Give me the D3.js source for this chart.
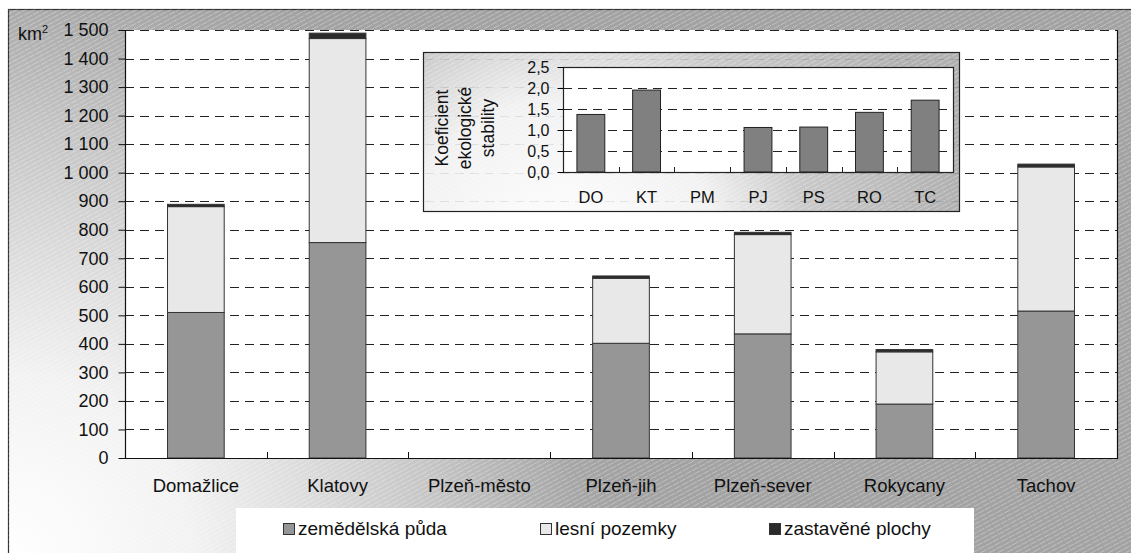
<!DOCTYPE html>
<html>
<head>
<meta charset="utf-8">
<script src="https://cdn.jsdelivr.net/npm/d3@7"></script>
<style>
  body { margin: 0; background: #fff; }
  svg text { font-family: "Liberation Sans", Arial, sans-serif; fill: #111; }
</style>
</head>
<body>
<svg id="chart" width="1131" height="553"></svg>
<script>
// data
var categories = ["Domažlice", "Klatovy", "Plzeň-město", "Plzeň-jih", "Plzeň-sever", "Rokycany", "Tachov"];
var zemedelska = [510, 755, 0, 402, 435, 189, 515];
var lesni = [371, 715, 0, 228, 348, 183, 505];
var zastavene = [8, 19, 0, 8, 8, 8, 10];
var seriesNames = ["zemědělská půda", "lesní pozemky", "zastavěné plochy"];
var yTicks = [0, 100, 200, 300, 400, 500, 600, 700, 800, 900, 1000, 1100, 1200, 1300, 1400, 1500];

var insetCats = ["DO", "KT", "PM", "PJ", "PS", "RO", "TC"];
var kes = [1.37, 1.95, 0, 1.06, 1.07, 1.42, 1.71];
var insetTicks = [0, 0.5, 1, 1.5, 2, 2.5];
var insetTitle = ["Koeficient", "ekologické", "stability"];

var colors = ["#969696", "#e8e8e8", "#2a2a2a"];

var cz = d3.formatLocale({decimal: ",", thousands: " ", grouping: [3], currency: ["", " Kč"]});
var fmtInt = cz.format(",d");
var fmtDec = cz.format(".1f");

var svg = d3.select("#chart");
var defs = svg.append("defs");

// background gradient + hatching
var rg = defs.append("radialGradient").attr("id", "bg")
  .attr("gradientUnits", "userSpaceOnUse")
  .attr("cx", 8).attr("cy", 560).attr("r", 620);
rg.append("stop").attr("offset", 0).attr("stop-color", "#ffffff");
rg.append("stop").attr("offset", 0.3).attr("stop-color", "#f2f2f2");
rg.append("stop").attr("offset", 0.7).attr("stop-color", "#c4c4c4");
rg.append("stop").attr("offset", 0.92).attr("stop-color", "#a6a6a6");
rg.append("stop").attr("offset", 1).attr("stop-color", "#a2a2a2");

var rg2 = defs.append("radialGradient").attr("id", "bg2")
  .attr("gradientUnits", "userSpaceOnUse")
  .attr("cx", 560).attr("cy", 260).attr("r", 400);
rg2.append("stop").attr("offset", 0).attr("stop-color", "#ffffff");
rg2.append("stop").attr("offset", 0.4).attr("stop-color", "#f0f0f0");
rg2.append("stop").attr("offset", 0.62).attr("stop-color", "#c4c4c4");
rg2.append("stop").attr("offset", 1).attr("stop-color", "#a8a8a8");

var pat = defs.append("pattern").attr("id", "hatch")
  .attr("patternUnits", "userSpaceOnUse")
  .attr("width", 8).attr("height", 4)
  .attr("patternTransform", "rotate(-28)");
pat.append("line").attr("x1", 0).attr("x2", 8).attr("y1", 0.5).attr("y2", 0.5)
  .attr("stroke", "#ffffff").attr("stroke-opacity", 0.3).attr("stroke-width", 1)
  .attr("stroke-dasharray", "5,1");

svg.append("rect").attr("x", 8.5).attr("y", 9.5).attr("width", 1140).attr("height", 560)
  .attr("fill", "url(#bg)").attr("stroke", "#333").attr("stroke-width", 1.2);
svg.append("rect").attr("x", 8.5).attr("y", 9.5).attr("width", 1140).attr("height", 560)
  .attr("fill", "url(#hatch)");

// main plot
var plot = {left: 125, right: 1117, top: 30, bottom: 458};

var x = d3.scaleBand().domain(categories)
  .range([plot.left, plot.right])
  .paddingInner(0.6).paddingOuter(0.3);
var y = d3.scaleLinear().domain([0, 1500]).range([plot.bottom, plot.top]);

svg.append("rect")
  .attr("x", plot.left).attr("y", plot.top)
  .attr("width", plot.right - plot.left).attr("height", plot.bottom - plot.top)
  .attr("fill", "#fff");

// gridlines
svg.append("g").selectAll("line")
  .data(yTicks.filter(function(d) { return d > 0; }))
  .enter().append("line")
  .attr("x1", plot.left).attr("x2", plot.right)
  .attr("y1", function(d) { return Math.round(y(d)) + 0.5; })
  .attr("y2", function(d) { return Math.round(y(d)) + 0.5; })
  .attr("stroke", "#222").attr("stroke-width", 1)
  .attr("stroke-dasharray", "9,6");

// stacked bars
var rows = categories.map(function(c, i) {
  return {cat: c, s0: zemedelska[i], s1: lesni[i], s2: zastavene[i]};
});
var stack = d3.stack().keys(["s0", "s1", "s2"])(rows);

svg.append("g").selectAll("g")
  .data(stack).enter().append("g")
  .attr("fill", function(d, i) { return colors[i]; })
  .selectAll("rect")
  .data(function(d) { return d.filter(function(p) { return p[1] > p[0]; }); })
  .enter().append("rect")
  .attr("x", function(d) { return x(d.data.cat); })
  .attr("width", x.bandwidth())
  .attr("y", function(d) { return y(d[1]); })
  .attr("height", function(d) { return y(d[0]) - y(d[1]); })
  .attr("stroke", "#333").attr("stroke-width", 1);

// plot frame (left, right, bottom)
svg.append("path")
  .attr("d", "M" + (plot.left + 0.5) + "," + plot.top + "V" + (plot.bottom + 0.5) +
    "H" + (plot.right + 0.5) + "V" + plot.top)
  .attr("fill", "none").attr("stroke", "#111").attr("stroke-width", 1.2);

// y axis
var yAxis = svg.append("g")
  .attr("transform", "translate(" + (plot.left + 0.5) + ",0)")
  .call(d3.axisLeft(y).tickValues(yTicks).tickFormat(fmtInt).tickSize(7).tickPadding(10));
yAxis.select(".domain").remove();
yAxis.selectAll(".tick line").attr("stroke", "#111");
yAxis.selectAll("text").style("font-size", "18px").attr("fill", "#111");

svg.append("text").attr("x", 18).attr("y", 40).style("font-size", "18px")
  .text("km").append("tspan").attr("dy", -7).style("font-size", "11px").text("2");

// x axis
var xAxis = svg.append("g")
  .attr("transform", "translate(0," + plot.bottom + ")")
  .call(d3.axisBottom(x).tickSize(0).tickPadding(21));
xAxis.select(".domain").remove();
xAxis.selectAll("text").style("font-size", "18.5px").attr("fill", "#111");

svg.append("g").selectAll("line")
  .data(d3.range(1, categories.length))
  .enter().append("line")
  .attr("x1", function(k) { return Math.round(plot.left + k * x.step()) + 0.5; })
  .attr("x2", function(k) { return Math.round(plot.left + k * x.step()) + 0.5; })
  .attr("y1", plot.bottom - 6).attr("y2", plot.bottom)
  .attr("stroke", "#111");

// inset chart
var box = {left: 423, top: 52, right: 959, bottom: 211};
var ip = {left: 563, right: 953, top: 67, bottom: 172};

svg.append("rect").attr("x", box.left + 0.5).attr("y", box.top + 0.5)
  .attr("width", box.right - box.left).attr("height", box.bottom - box.top)
  .attr("fill", "url(#bg2)").attr("fill-opacity", 0.9);
svg.append("rect").attr("x", box.left + 0.5).attr("y", box.top + 0.5)
  .attr("width", box.right - box.left).attr("height", box.bottom - box.top)
  .attr("fill", "url(#hatch)").attr("stroke", "#222").attr("stroke-width", 1.2);

var ix = d3.scaleBand().domain(insetCats)
  .range([ip.left, ip.right])
  .paddingInner(0.5).paddingOuter(0.25);
var iy = d3.scaleLinear().domain([0, 2.5]).range([ip.bottom, ip.top]);

svg.append("rect").attr("x", ip.left).attr("y", ip.top)
  .attr("width", ip.right - ip.left).attr("height", ip.bottom - ip.top)
  .attr("fill", "#fff");

svg.append("g").selectAll("line")
  .data(insetTicks.filter(function(d) { return d > 0 && d < 2.5; }))
  .enter().append("line")
  .attr("x1", ip.left).attr("x2", ip.right)
  .attr("y1", function(d) { return Math.round(iy(d)) + 0.5; })
  .attr("y2", function(d) { return Math.round(iy(d)) + 0.5; })
  .attr("stroke", "#222").attr("stroke-dasharray", "9,6");

svg.append("g").selectAll("rect")
  .data(kes.map(function(v, i) { return {cat: insetCats[i], v: v}; })
    .filter(function(d) { return d.v > 0; }))
  .enter().append("rect")
  .attr("x", function(d) { return ix(d.cat); })
  .attr("width", ix.bandwidth())
  .attr("y", function(d) { return iy(d.v); })
  .attr("height", function(d) { return iy(0) - iy(d.v); })
  .attr("fill", "#808080").attr("stroke", "#222").attr("stroke-width", 1);

svg.append("rect").attr("x", ip.left + 0.5).attr("y", ip.top + 0.5)
  .attr("width", ip.right - ip.left).attr("height", ip.bottom - ip.top)
  .attr("fill", "none").attr("stroke", "#222").attr("stroke-width", 1.2);

var iyAxis = svg.append("g")
  .attr("transform", "translate(" + (ip.left + 0.5) + ",0)")
  .call(d3.axisLeft(iy).tickValues(insetTicks).tickFormat(fmtDec).tickSize(6).tickPadding(8));
iyAxis.select(".domain").remove();
iyAxis.selectAll("text").style("font-size", "16px").attr("fill", "#222");

var ixAxis = svg.append("g")
  .attr("transform", "translate(0," + ip.bottom + ")")
  .call(d3.axisBottom(ix).tickSize(0).tickPadding(19));
ixAxis.select(".domain").remove();
ixAxis.selectAll("text").style("font-size", "16.5px").attr("fill", "#222");

svg.append("g").selectAll("line")
  .data(d3.range(1, insetCats.length))
  .enter().append("line")
  .attr("x1", function(k) { return Math.round(ip.left + k * ix.step()) + 0.5; })
  .attr("x2", function(k) { return Math.round(ip.left + k * ix.step()) + 0.5; })
  .attr("y1", ip.bottom - 5).attr("y2", ip.bottom)
  .attr("stroke", "#222");

svg.append("g").selectAll("text")
  .data(insetTitle).enter().append("text")
  .attr("transform", function(d, i) { return "translate(" + (442 + i * 23) + ",128) rotate(-90)"; })
  .attr("text-anchor", "middle").attr("dominant-baseline", "central")
  .style("font-size", "17.5px").attr("fill", "#222")
  .text(function(d) { return d; });

// legend
svg.append("rect").attr("x", 236).attr("y", 508).attr("width", 738).attr("height", 60)
  .attr("fill", "#fff");
var legendX = [283, 540, 769];
var lg = svg.append("g").selectAll("g")
  .data(seriesNames).enter().append("g")
  .attr("transform", function(d, i) { return "translate(" + legendX[i] + ",0)"; });
lg.append("rect").attr("x", 0.5).attr("y", 523.5).attr("width", 11).attr("height", 11)
  .attr("fill", function(d, i) { return colors[i]; }).attr("stroke", "#333");
lg.append("text").attr("x", 15).attr("y", 535).style("font-size", "19px")
  .text(function(d) { return d; });
</script>
</body>
</html>
